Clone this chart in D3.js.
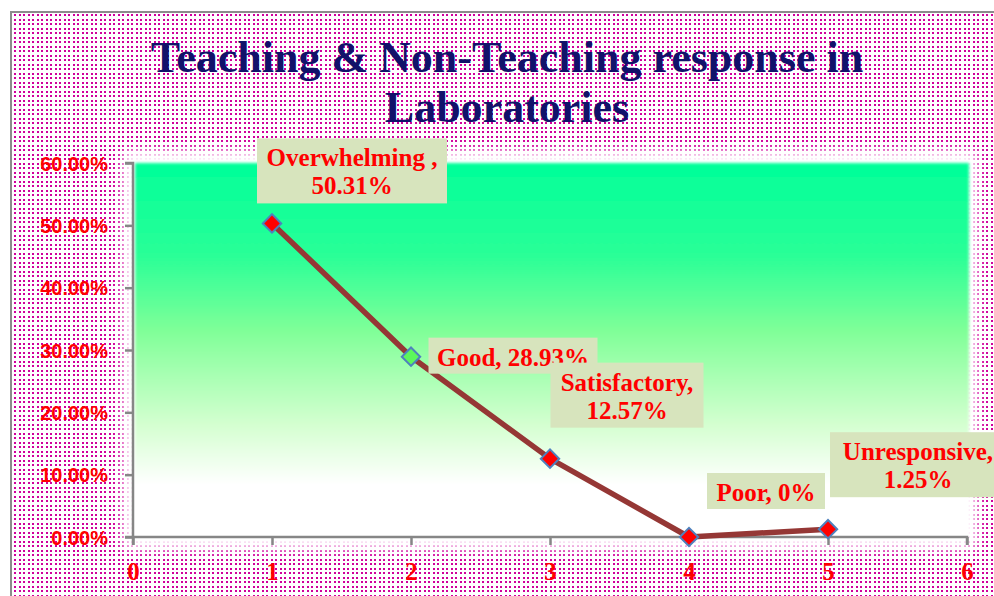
<!DOCTYPE html>
<html>
<head>
<meta charset="utf-8">
<script src="https://cdn.jsdelivr.net/npm/d3@7"></script>
<style>
  html, body { margin: 0; padding: 0; background: #ffffff; }
  svg { display: block; }
</style>
</head>
<body>
<svg id="chart" width="994" height="596"></svg>
<script>
// ---- data ----
const categories = ["Overwhelming", "Good", "Satisfactory", "Poor", "Unresponsive"];
const xValues = [1, 2, 3, 4, 5];
const values = [0.5031, 0.2893, 0.1257, 0, 0.0125];
const labelLines = [
  ["Overwhelming ,", "50.31%"],
  ["Good, 28.93%"],
  ["Satisfactory,", "12.57%"],
  ["Poor, 0%"],
  ["Unresponsive,", "1.25%"]
];
const xTicks = [0, 1, 2, 3, 4, 5, 6];
const yTicks = [0, 0.1, 0.2, 0.3, 0.4, 0.5, 0.6];
const titleLines = ["Teaching & Non-Teaching response in", "Laboratories"];

// label box layout: [center dx, top dy, width, height] relative to point
const labelBoxes = [
  [80, -85, 190, 65],
  [102, -19, 169, 36],
  [77, -96, 153, 65],
  [77, -64, 118, 36],
  [90, -97, 176, 65]
];
const markerFills = ["#ff0000", "#5cf75c", "#ff0000", "#ff0000", "#ff0000"];

const svg = d3.select("#chart");
const defs = svg.append("defs");

// dotted background pattern
const pat = defs.append("pattern").attr("id", "dots").attr("patternUnits", "userSpaceOnUse")
  .attr("width", 9).attr("height", 9);
pat.append("rect").attr("width", 9).attr("height", 9).attr("fill", "#ffffff").attr("shape-rendering", "crispEdges");
[[1, 1], [5, 1], [1, 5], [5, 5]].forEach(([px, py]) =>
  pat.append("rect").attr("x", px).attr("y", py).attr("width", 2).attr("height", 2)
    .attr("fill", "#d0009c").attr("shape-rendering", "crispEdges"));

// plot gradient
const grad = defs.append("linearGradient").attr("id", "plotGrad")
  .attr("x1", 0).attr("y1", 0).attr("x2", 0).attr("y2", 1);
[[0, "#00ff99"], [0.25, "#2aff97"], [0.45, "#80ff98"], [0.7, "#d4ffd0"], [0.86, "#ffffff"], [1, "#ffffff"]]
  .forEach(([o, c]) => grad.append("stop").attr("offset", o).attr("stop-color", c));

const blurBig = defs.append("filter").attr("id", "halo").attr("x", -0.1).attr("y", -0.2).attr("width", 1.2).attr("height", 1.4);
blurBig.append("feGaussianBlur").attr("stdDeviation", 6);
const blurSmall = defs.append("filter").attr("id", "soft").attr("x", -0.05).attr("y", -0.05).attr("width", 1.1).attr("height", 1.1);
blurSmall.append("feGaussianBlur").attr("stdDeviation", 1.5);

// outer frame
svg.append("rect").attr("x", 11).attr("y", 12).attr("width", 1000).attr("height", 600)
  .attr("fill", "url(#dots)").attr("stroke", "#8c8c8c").attr("stroke-width", 2);

// scales
const plot = { left: 133, right: 967, top: 163, bottom: 537 };
const x = d3.scaleLinear().domain([0, 6]).range([plot.left, plot.right]);
const y = d3.scaleLinear().domain([0, 0.6]).range([plot.bottom, plot.top]);

// plot area
svg.append("rect").attr("x", plot.left - 10).attr("y", plot.top - 12)
  .attr("width", plot.right - plot.left + 20).attr("height", plot.bottom - plot.top + 24)
  .attr("fill", "#ffffff").attr("filter", "url(#halo)");
svg.append("rect").attr("x", plot.left + 2).attr("y", plot.top)
  .attr("width", plot.right - plot.left).attr("height", plot.bottom - plot.top)
  .attr("fill", "url(#plotGrad)").attr("filter", "url(#soft)");

// title
svg.append("g").selectAll("text").data(titleLines).join("text")
  .attr("x", 507).attr("y", (d, i) => 72 + i * 50)
  .attr("text-anchor", "middle")
  .attr("font-family", "'Liberation Serif', 'DejaVu Serif', serif")
  .attr("font-weight", "bold").attr("font-size", 44)
  .attr("fill", "#12126a")
  .text(d => d);

// axes
const axisColor = "#868686";
const yAxis = svg.append("g").attr("transform", `translate(${plot.left},0)`)
  .call(d3.axisLeft(y).tickValues(yTicks).tickSize(8).tickFormat(d3.format(".2%")));
const xAxis = svg.append("g").attr("transform", `translate(0,${plot.bottom})`)
  .call(d3.axisBottom(x).tickValues(xTicks).tickSize(8).tickFormat(d3.format("d")));
[yAxis, xAxis].forEach(g => {
  g.select(".domain").attr("stroke", axisColor).attr("stroke-width", 2.5);
  g.selectAll(".tick line").attr("stroke", axisColor).attr("stroke-width", 2.5);
});
xAxis.select(".domain").attr("d", `M${plot.left},8V0H${plot.right}V8`);
yAxis.select(".domain").attr("d", `M-8,${plot.top}H0V${plot.bottom}H-8`);
yAxis.selectAll(".tick text")
  .attr("x", -25).attr("dy", "0.36em")
  .attr("font-family", "'Liberation Sans', Arial, sans-serif")
  .attr("font-weight", "bold").attr("font-size", 20).attr("fill", "#ff0000");
xAxis.selectAll(".tick text")
  .attr("y", 43).attr("dy", 0)
  .attr("font-family", "'Liberation Serif', 'DejaVu Serif', serif")
  .attr("font-weight", "bold").attr("font-size", 25).attr("fill", "#ff0000");

// line
const pts = xValues.map((v, i) => ({ x: v, y: values[i], i }));
svg.append("path").datum(pts)
  .attr("fill", "none").attr("stroke", "#953735").attr("stroke-width", 5.5)
  .attr("stroke-linejoin", "round")
  .attr("d", d3.line().x(d => x(d.x)).y(d => y(d.y)));

// markers
svg.append("g").selectAll("path").data(pts).join("path")
  .attr("transform", d => `translate(${x(d.x)},${y(d.y)}) rotate(45)`)
  .attr("d", "M-6.5,-6.5H6.5V6.5H-6.5Z")
  .attr("fill", d => markerFills[d.i])
  .attr("stroke", "#4f81bd").attr("stroke-width", 2);

// data labels
const lg = svg.append("g").selectAll("g").data(pts).join("g")
  .attr("transform", d => `translate(${x(d.x)},${y(d.y)})`);
lg.append("rect")
  .attr("x", d => labelBoxes[d.i][0] - labelBoxes[d.i][2] / 2)
  .attr("y", d => labelBoxes[d.i][1])
  .attr("width", d => labelBoxes[d.i][2])
  .attr("height", d => labelBoxes[d.i][3])
  .attr("fill", "#d7e4bd");
lg.each(function (d) {
  const b = labelBoxes[d.i];
  d3.select(this).selectAll("text").data(labelLines[d.i]).join("text")
    .attr("x", b[0]).attr("y", (t, k) => b[1] + 28 + k * 28)
    .attr("text-anchor", "middle")
    .attr("font-family", "'Liberation Serif', 'DejaVu Serif', serif")
    .attr("font-weight", "bold").attr("font-size", 25)
    .attr("fill", "#ff0000")
    .text(t => t);
});
</script>
</body>
</html>
